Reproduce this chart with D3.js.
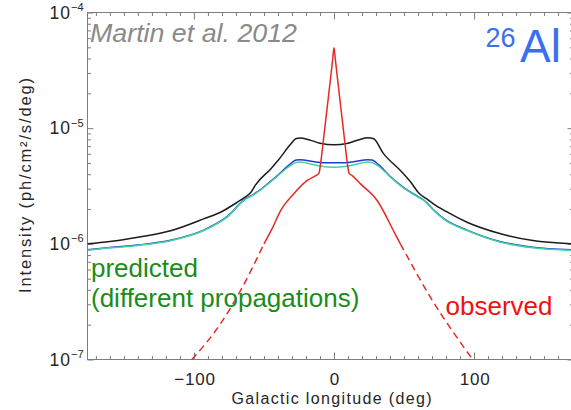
<!DOCTYPE html>
<html>
<head>
<meta charset="utf-8">
<script src="https://cdn.jsdelivr.net/npm/d3@7"></script>
<style>
  html, body { margin: 0; padding: 0; background: #fff; overflow: hidden; }
  text { font-family: "Liberation Sans", Arial, sans-serif; }
</style>
</head>
<body>
<svg id="chart" width="571" height="410"></svg>
<script>
// ---- axes ----
const longitudeRange = [-176, 171];
const intensityRange = [1e-7, 1e-4];
const xMajorTicks = [-100, 0, 100];
const xTickLabels = ["\u2212100", "0", "100"];
const xMinorTicks = [-170, -160, -150, -140, -130, -120, -110, -90, -80, -70, -60, -50, -40, -30, -20, -10,
                     10, 20, 30, 40, 50, 60, 70, 80, 90, 110, 120, 130, 140, 150, 160, 170];
const yMajorTicks = [1e-7, 1e-6, 1e-5, 1e-4];
const yTickExponents = ["\u22127", "\u22126", "\u22125", "\u22124"];

// ---- predicted profiles (ph/cm^2/s/deg) for different propagation models ----
const modelALon = [-176, -160, -140, -116, -93, -80, -69, -64, -59.3, -56, -45, -40, -31, -27, -24, -18, -10, 0,
                   10, 18, 24, 28, 35.5, 47.4, 55, 60.5, 66, 71, 80, 95, 119, 142, 171];
const modelAVal = [1.000e-6, 1.047e-6, 1.140e-6, 1.303e-6, 1.644e-6, 1.905e-6, 2.291e-6, 2.512e-6, 2.793e-6,
                   3.236e-6, 4.467e-6, 5.248e-6, 7.244e-6, 8.128e-6, 8.222e-6, 7.943e-6, 7.413e-6, 7.178e-6,
                   7.413e-6, 7.943e-6, 8.260e-6, 8.128e-6, 5.998e-6, 4.305e-6, 3.388e-6, 2.754e-6, 2.455e-6,
                   2.218e-6, 1.905e-6, 1.538e-6, 1.222e-6, 1.069e-6, 1.000e-6];

const modelBCLon = [-176, -160, -140, -116, -93, -80, -74, -68, -64, -58, -52, -47, -40, -32, -27, -24, -15, -8, 0,
                    8, 15, 24, 27, 32, 40, 47.4, 55, 60, 64, 68, 71.2, 80, 95, 119, 142, 171];
const modelBVal = [0.889e-6, 0.931e-6, 0.977e-6, 1.079e-6, 1.315e-6, 1.600e-6, 1.816e-6, 2.183e-6, 2.410e-6,
                   2.654e-6, 2.978e-6, 3.334e-6, 3.926e-6, 4.808e-6, 5.297e-6, 5.321e-6, 5.152e-6, 5.035e-6,
                   5.012e-6, 5.035e-6, 5.152e-6, 5.321e-6, 5.297e-6, 4.808e-6, 3.837e-6, 3.221e-6, 2.779e-6,
                   2.564e-6, 2.393e-6, 2.158e-6, 1.959e-6, 1.600e-6, 1.315e-6, 1.043e-6, 0.934e-6, 0.885e-6];
const modelCVal = [0.881e-6, 0.923e-6, 0.968e-6, 1.069e-6, 1.303e-6, 1.585e-6, 1.799e-6, 2.163e-6, 2.388e-6,
                   2.630e-6, 2.951e-6, 3.304e-6, 3.890e-6, 4.677e-6, 5.058e-6, 5.093e-6, 4.842e-6, 4.656e-6,
                   4.603e-6, 4.656e-6, 4.842e-6, 5.093e-6, 5.058e-6, 4.677e-6, 3.802e-6, 3.192e-6, 2.754e-6,
                   2.541e-6, 2.371e-6, 2.138e-6, 1.941e-6, 1.585e-6, 1.303e-6, 1.033e-6, 0.925e-6, 0.877e-6];

// ---- observed profile ----
const observedLon = [-101.5, -81, -66.7, -50, -44.1, -38.2, -28.7, -19.1, -13, -10.8, -9.5, -8, -6, -4, -2, -1, 0,
                     1, 2, 4, 6, 8, 9.5, 10.8, 13, 18.9, 30.8, 43.9, 47.4, 68.8, 99];
const observedVal = [1.00e-7, 2.04e-7, 3.95e-7, 1.00e-6, 1.36e-6, 1.93e-6, 2.71e-6, 3.53e-6, 3.89e-6, 4.07e-6,
                     5.01e-6, 7.08e-6, 1.15e-5, 1.86e-5, 3.02e-5, 3.89e-5, 4.96e-5, 3.89e-5, 3.02e-5, 1.86e-5,
                     1.15e-5, 7.08e-6, 5.01e-6, 4.07e-6, 3.89e-6, 3.30e-6, 2.37e-6, 1.20e-6, 1.00e-6, 3.46e-7, 1.00e-7];
// below this intensity the observed profile is an extrapolation (dashed)
const observedSolidFloor = 1e-6;

// ---- layout ----
const plot = { left: 87.5, right: 573.5, top: 12.5, bottom: 359.5 };
const axisColor = "#7d7d7d";
const labelColor = "#262626";

const svg = d3.select("#chart");
const x = d3.scaleLinear().domain(longitudeRange).range([plot.left, plot.right]);
const y = d3.scaleLog().domain(intensityRange).range([plot.bottom, plot.top]);

const yMinorTicks = [];
for (let e = -7; e < -4; e++) for (let k = 2; k <= 9; k++) yMinorTicks.push(k * Math.pow(10, e));

function drawAxis(axis, tx, ty) {
  const g = svg.append("g").attr("transform", `translate(${tx},${ty})`).call(axis);
  g.select(".domain").remove();
  g.selectAll("line").attr("stroke", axisColor).attr("stroke-width", 1);
  g.selectAll("text").remove();
  return g;
}
const fmt = () => "";
drawAxis(d3.axisBottom(x).tickValues(xMajorTicks).tickSizeInner(-7).tickSizeOuter(0).tickFormat(fmt), 0, plot.bottom);
drawAxis(d3.axisBottom(x).tickValues(xMinorTicks).tickSizeInner(-3.5).tickSizeOuter(0).tickFormat(fmt), 0, plot.bottom);
drawAxis(d3.axisTop(x).tickValues(xMajorTicks).tickSizeInner(-7).tickSizeOuter(0).tickFormat(fmt), 0, plot.top);
drawAxis(d3.axisTop(x).tickValues(xMinorTicks).tickSizeInner(-3.5).tickSizeOuter(0).tickFormat(fmt), 0, plot.top);
drawAxis(d3.axisLeft(y).tickValues(yMajorTicks).tickSizeInner(-6).tickSizeOuter(0).tickFormat(fmt), plot.left, 0);
drawAxis(d3.axisLeft(y).tickValues(yMinorTicks).tickSizeInner(-3.5).tickSizeOuter(0).tickFormat(fmt), plot.left, 0);
drawAxis(d3.axisRight(y).tickValues(yMajorTicks).tickSizeInner(-6).tickSizeOuter(0).tickFormat(fmt), plot.right, 0);
drawAxis(d3.axisRight(y).tickValues(yMinorTicks).tickSizeInner(-3.5).tickSizeOuter(0).tickFormat(fmt), plot.right, 0);

svg.append("rect")
  .attr("x", plot.left).attr("y", plot.top)
  .attr("width", plot.right - plot.left).attr("height", plot.bottom - plot.top)
  .attr("fill", "none").attr("stroke", axisColor).attr("stroke-width", 1);

// tick labels
svg.append("g").selectAll("text").data(xMajorTicks).join("text")
  .attr("x", d => x(d) + 1).attr("y", 385)
  .attr("text-anchor", "middle")
  .attr("font-size", 17).attr("letter-spacing", 0.8)
  .attr("fill", labelColor)
  .text((d, i) => xTickLabels[i]);

const yl = svg.append("g").selectAll("text").data(yMajorTicks).join("text")
  .attr("x", 83.5).attr("y", d => y(d) + 6)
  .attr("text-anchor", "end")
  .attr("fill", labelColor)
  .attr("font-size", 17.5);
yl.append("tspan").attr("letter-spacing", 1).text("10");
yl.append("tspan").attr("font-size", 11).attr("dy", -7.5).text((d, i) => yTickExponents[i]);

// axis titles
svg.append("text")
  .attr("x", 331.5).attr("y", 404)
  .attr("text-anchor", "middle")
  .attr("font-size", 16).attr("fill", labelColor)
  .attr("textLength", 200).attr("lengthAdjust", "spacing")
  .text("Galactic longitude (deg)");

svg.append("text")
  .attr("transform", "translate(31,185.5) rotate(-90)")
  .attr("text-anchor", "middle")
  .attr("font-size", 16.5).attr("fill", labelColor)
  .attr("textLength", 215).attr("lengthAdjust", "spacing")
  .text("Intensity (ph/cm\u00B2/s/deg)");

// ---- curves ----
svg.append("clipPath").attr("id", "plotClip")
  .append("rect").attr("x", plot.left).attr("y", plot.top)
  .attr("width", plot.right - plot.left).attr("height", plot.bottom - plot.top);
const curves = svg.append("g").attr("clip-path", "url(#plotClip)");

const line = d3.line().x(d => x(d[0])).y(d => y(d[1])).curve(d3.curveMonotoneX);
const zip = (a, b) => a.map((v, i) => [v, b[i]]);

function drawCurve(points, color, width, dash) {
  curves.append("path")
    .attr("d", line(points))
    .attr("fill", "none")
    .attr("stroke", color)
    .attr("stroke-width", width)
    .attr("stroke-linejoin", "round")
    .attr("stroke-dasharray", dash || null);
}

drawCurve(zip(modelALon, modelAVal), "#1c1c1c", 1.5);
drawCurve(zip(modelBCLon, modelBVal), "#2438d0", 1.5);
drawCurve(zip(modelBCLon, modelCVal), "#3fd3a2", 1.5);

const obs = zip(observedLon, observedVal);
const firstSolid = obs.findIndex(p => p[1] >= observedSolidFloor);
let lastSolid = obs.length - 1;
while (obs[lastSolid][1] < observedSolidFloor) lastSolid--;
const observedColor = "#e52a26";
drawCurve(obs.slice(0, firstSolid + 1), observedColor, 1.5, "7,4.5");
drawCurve(obs.slice(lastSolid), observedColor, 1.5, "7,4.5");
drawCurve(obs.slice(firstSolid, lastSolid + 1), observedColor, 1.5);

// ---- annotations ----
svg.append("text")
  .attr("x", 90).attr("y", 41.5)
  .attr("font-size", 25).attr("font-style", "italic")
  .attr("fill", "#8a8a8a")
  .attr("textLength", 207).attr("lengthAdjust", "spacingAndGlyphs")
  .text("Martin et al. 2012");

const iso = svg.append("text").attr("fill", "#3b6ff0");
iso.append("tspan").attr("x", 485.5).attr("y", 46.5).attr("font-size", 27).text("26");
iso.append("tspan").attr("x", 520).attr("y", 62).attr("font-size", 46).text("Al");

const pred = svg.append("text").attr("fill", "#1a8c1a").attr("font-size", 26);
pred.append("tspan").attr("x", 91).attr("y", 277).text("predicted");
pred.append("tspan").attr("x", 91).attr("y", 307).text("(different propagations)");

svg.append("text")
  .attr("x", 445.5).attr("y", 315)
  .attr("font-size", 26).attr("fill", "#f01010")
  .text("observed");
</script>
</body>
</html>
